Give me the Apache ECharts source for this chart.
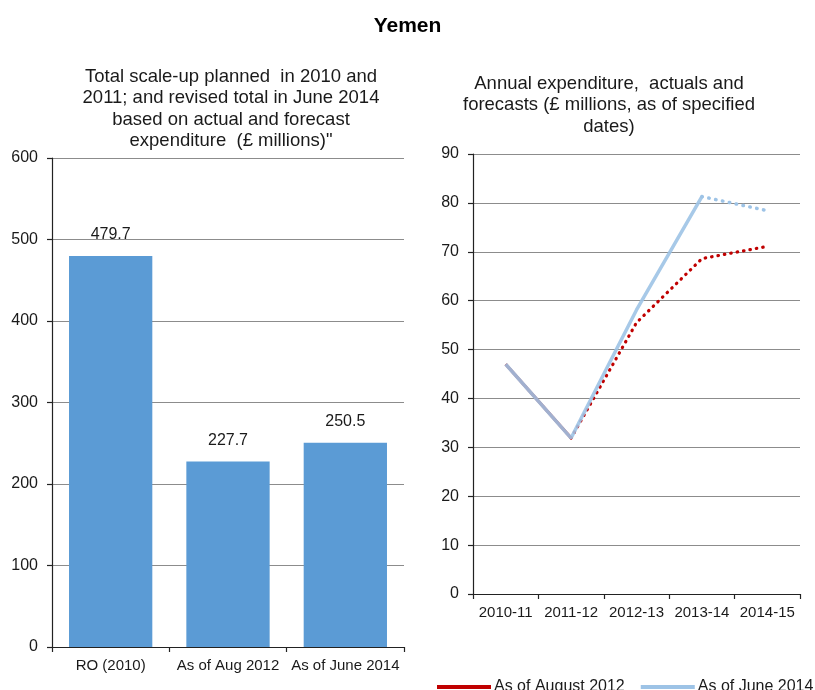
<!DOCTYPE html>
<html>
<head>
<meta charset="utf-8">
<script src="https://cdn.jsdelivr.net/npm/echarts@6/dist/echarts.min.js"></script>
<style>
  html, body { margin: 0; padding: 0; background: #fff; }
  #chart { width: 815px; height: 690px; }
</style>
</head>
<body>
<div id="chart"></div>
<script>
// Left panel: total scale-up (£ millions)
const totalCategories = ['RO (2010)', 'As of Aug 2012', 'As of June 2014'];
const totalValues = [479.7, 227.7, 250.5];

// Right panel: annual expenditure (£ millions)
const yearCategories = ['2010-11', '2011-12', '2012-13', '2013-14', '2014-15'];
const aug2012Values = [47.0, 31.9, 55.5, 68.6, 71.1];
const june2014Values = [47.0, 31.9, 58.1, 81.3, 78.4];

// Which points belong to the solid (actual) part of each line
const aug2012Actual = [true, true, false, false, false];
const june2014Actual = [true, true, true, true, false];

const FONT = 'Liberation Sans, Arial, sans-serif';
const TEXT = '#1a1a1a';
const RED = '#c00000';
const BLUE = '#9dc3e6';

// Split a series into its solid and dotted pieces, sharing the joining point
function solidPart(values, actual) {
  return values.map((v, i) => (actual[i] ? v : null));
}
function dottedPart(values, actual) {
  return values.map((v, i) => {
    if (!actual[i]) return v;
    if (i + 1 < values.length && !actual[i + 1]) return v;
    return null;
  });
}

const chart = echarts.init(document.getElementById('chart'), null, { renderer: 'canvas' });

const yLabel = { color: TEXT, fontFamily: FONT, fontSize: 16, margin: 14 };
const xLabel = { color: TEXT, fontFamily: FONT, fontSize: 15, margin: 11, interval: 0 };
const axisLine = { show: true, lineStyle: { color: '#222', width: 1.2 } };
const axisTick = { show: true, length: 5, lineStyle: { color: '#222', width: 1.2 } };
const subTitleStyle = { fontFamily: FONT, fontSize: 18.5, fontWeight: 'normal', color: TEXT, lineHeight: 21.5 };

chart.setOption({
  animation: false,
  textStyle: { fontFamily: FONT },
  title: [
    {
      text: 'Yemen',
      left: 'center',
      top: 11,
      textStyle: { fontFamily: FONT, fontSize: 21, fontWeight: 'bold', color: '#000' }
    },
    {
      text: 'Total scale-up planned  in 2010 and\n2011; and revised total in June 2014\nbased on actual and forecast\nexpenditure  (£ millions)"',
      left: 226,
      textAlign: 'center',
      top: 61,
      textStyle: subTitleStyle
    },
    {
      text: 'Annual expenditure,  actuals and\nforecasts (£ millions, as of specified\ndates)',
      left: 604,
      textAlign: 'center',
      top: 68,
      textStyle: subTitleStyle
    }
  ],
  legend: {
    top: 674,
    left: 432,
    width: 400,
    orient: 'horizontal',
    itemWidth: 54,
    itemHeight: 4,
    itemGap: 16,
    icon: 'rect',
    textStyle: { fontFamily: FONT, fontSize: 16, color: TEXT, padding: [0, 0, 0, -2] },
    data: ['As of August 2012', 'As of June 2014']
  },
  grid: [
    { left: 52, right: 411, top: 158, bottom: 43 },
    { left: 473, right: 15, top: 154, bottom: 96 }
  ],
  xAxis: [
    {
      type: 'category',
      gridIndex: 0,
      data: totalCategories,
      axisLine: axisLine,
      axisTick: axisTick,
      axisLabel: xLabel
    },
    {
      type: 'category',
      gridIndex: 1,
      data: yearCategories,
      axisLine: axisLine,
      axisTick: axisTick,
      axisLabel: xLabel
    }
  ],
  yAxis: [
    {
      type: 'value',
      gridIndex: 0,
      min: 0, max: 600, interval: 100,
      axisLine: axisLine,
      axisTick: axisTick,
      axisLabel: yLabel,
      splitLine: { lineStyle: { color: '#8c8c8c', width: 1 } }
    },
    {
      type: 'value',
      gridIndex: 1,
      min: 0, max: 90, interval: 10,
      axisLine: axisLine,
      axisTick: axisTick,
      axisLabel: yLabel,
      splitLine: { lineStyle: { color: '#8c8c8c', width: 1 } }
    }
  ],
  series: [
    {
      type: 'bar',
      xAxisIndex: 0,
      yAxisIndex: 0,
      data: totalValues,
      barWidth: '71%',
      itemStyle: { color: '#5b9bd5' },
      label: {
        show: true,
        position: 'top',
        distance: 13,
        color: TEXT,
        fontFamily: FONT,
        fontSize: 16,
        formatter: p => p.value.toFixed(1)
      }
    },
    {
      name: 'As of August 2012',
      type: 'line',
      xAxisIndex: 1,
      yAxisIndex: 1,
      data: solidPart(aug2012Values, aug2012Actual),
      showSymbol: false,
      itemStyle: { color: RED },
      lineStyle: { color: RED, width: 3, type: 'solid' }
    },
    {
      name: 'As of August 2012',
      type: 'line',
      xAxisIndex: 1,
      yAxisIndex: 1,
      data: dottedPart(aug2012Values, aug2012Actual),
      showSymbol: false,
      itemStyle: { color: RED },
      lineStyle: { color: RED, width: 3.2, type: [0.5, 6], cap: 'round' }
    },
    {
      name: 'As of June 2014',
      type: 'line',
      xAxisIndex: 1,
      yAxisIndex: 1,
      data: solidPart(june2014Values, june2014Actual),
      showSymbol: false,
      itemStyle: { color: BLUE },
      lineStyle: { color: BLUE, width: 3.5, type: 'solid', opacity: 0.9 }
    },
    {
      name: 'As of June 2014',
      type: 'line',
      xAxisIndex: 1,
      yAxisIndex: 1,
      data: dottedPart(june2014Values, june2014Actual),
      showSymbol: false,
      itemStyle: { color: BLUE },
      lineStyle: { color: BLUE, width: 3.5, type: [0.5, 6.5], cap: 'round' }
    }
  ]
});
</script>
</body>
</html>
